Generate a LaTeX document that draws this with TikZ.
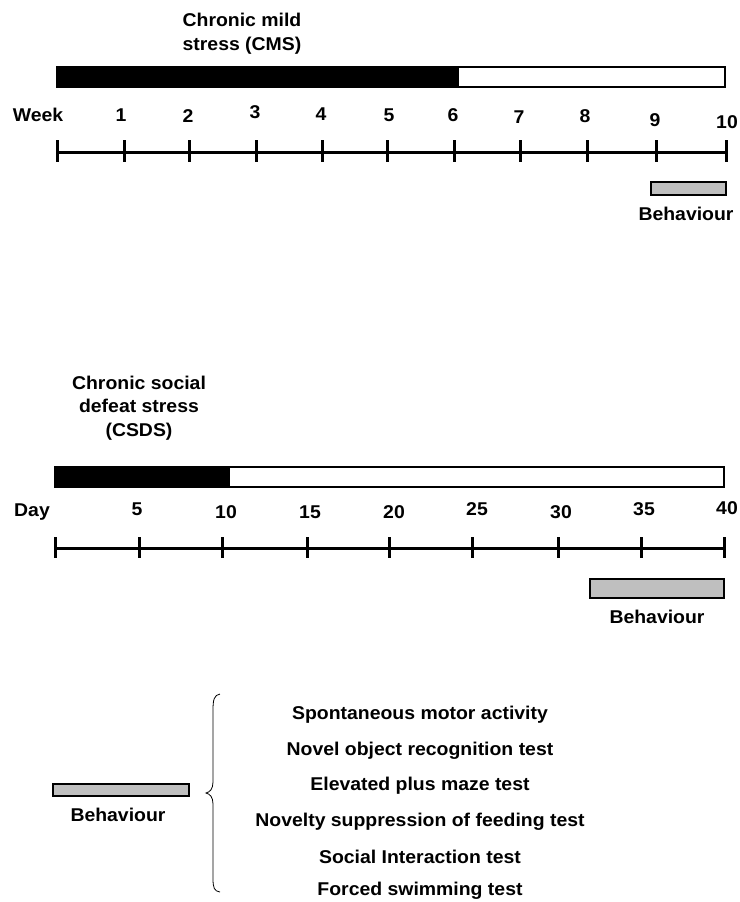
\documentclass[tikz,border=0pt]{standalone}
\usepackage{fontspec}
\setmainfont{Liberation Sans}[FakeStretch=1.05]
\begin{document}
\begin{tikzpicture}[x=1pt,y=-1pt,
  lbl/.style={font=\fontsize{18.5}{24}\selectfont\bfseries, inner sep=0pt, align=center},
  barblack/.style={fill=black, draw=black, line width=1.5pt},
  barwhite/.style={fill=white, draw=black, line width=2pt},
  behbar/.style={fill=black!25, draw=black, line width=2pt},
  axisline/.style={line width=3pt},
  tick/.style={line width=3pt}]
\useasboundingbox (0,0) rectangle (739,902);

% ---------- CMS ----------
\node[lbl] (cmsTitle) at (242,34) {Chronic mild\\stress (CMS)};
\fill[barblack] (57,67) rectangle (458,87);
\draw[barwhite] (458,67) rectangle (725,87);

\node[lbl] (week) at (38,115) {Week};
\foreach \n/\x/\y in {1/121/115, 2/188/116, 3/255/112, 4/321/114, 5/389/115,
                      6/453/115, 7/519/117, 8/585/116, 9/655/120, 10/727/122}
  \node[lbl] (w\n) at (\x,\y) {\n};

\draw[axisline] (57,152) -- (726,152);
\foreach \x in {57,124,189,256,322,387,454,520,587,656,726}
  \draw[tick] (\x,140) -- (\x,162);

\draw[behbar] (651,182) rectangle (726,195);
\node[lbl] (beh1) at (686,214) {Behaviour};

% ---------- CSDS ----------
\node[lbl, font=\fontsize{18.5}{23.5}\selectfont\bfseries] (csdsTitle) at (139,408)
  {Chronic social\\defeat stress\\(CSDS)};
\fill[barblack] (55,467) rectangle (229,487);
\draw[barwhite] (229,467) rectangle (724,487);

\node[lbl] (day) at (32,512) {Day};
\foreach \n/\x/\y in {5/137/509, 10/226/512, 15/310/512, 20/394/512, 25/477/509,
                      30/561/512, 35/644/509, 40/727/508}
  \node[lbl] (d\n) at (\x,\y) {\n};

\draw[axisline] (55,548) -- (724,548);
\foreach \x in {55,139,222,307,389,472,558,641,724}
  \draw[tick] (\x,537) -- (\x,558);

\draw[behbar] (590,579) rectangle (724,598);
\node[lbl] (beh2) at (657,617) {Behaviour};

% ---------- Legend ----------
\draw[behbar] (53,784) rectangle (189,796);
\node[lbl] (beh3) at (118,815) {Behaviour};

\draw[line width=0.8pt] (220,694) .. controls (214,695) and (213,700) .. (213,710)
  -- (213,782) .. controls (213,789) and (210,792) .. (206,793)
  .. controls (210,794) and (213,797) .. (213,804)
  -- (213,878) .. controls (213,888) and (214,891) .. (220,892);

\node[lbl] (t1) at (420,715) {Spontaneous motor activity};
\node[lbl] (t2) at (420,751) {Novel object recognition test};
\node[lbl] (t3) at (420,786) {Elevated plus maze test};
\node[lbl] (t4) at (420,822) {Novelty suppression of feeding test};
\node[lbl] (t5) at (420,857) {Social Interaction test};
\node[lbl] (t6) at (420,891) {Forced swimming test};
\end{tikzpicture}
\end{document}
